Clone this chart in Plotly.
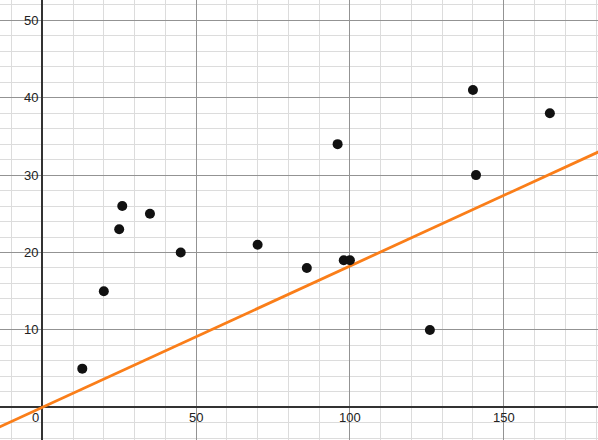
import plotly.graph_objects as go

# Data
x_vals = [13, 20, 25, 26, 35, 45, 70, 86, 96, 98, 100, 126, 140, 141, 165]
y_vals = [5, 15, 23, 26, 25, 20, 21, 18, 34, 19, 19, 10, 41, 30, 38]
line_slope = 0.1825
line_intercept = 0.0
x_tick_labels = [50, 100, 150]
y_tick_labels = [10, 20, 30, 40, 50]

x_range = [-13.75, 180.65]
y_range = [-4.22, 52.62]

line_x = [x_range[0] - 10, x_range[1] + 10]
line_y = [line_slope * v + line_intercept for v in line_x]

fig = go.Figure()
fig.add_trace(go.Scatter(x=line_x, y=line_y, mode="lines",
                         line=dict(color="#fa7e19", width=2.8),
                         hoverinfo="skip", showlegend=False))
fig.add_trace(go.Scatter(x=x_vals, y=y_vals, mode="markers",
                         marker=dict(color="#111111", size=10),
                         showlegend=False))

font = dict(family="Liberation Sans, Arial, sans-serif", size=13, color="#222222")
annotations = []
for v in x_tick_labels:
    annotations.append(dict(x=v, y=0, xref="x", yref="y", text=str(v), showarrow=False,
                            xanchor="center", yanchor="top", yshift=-1, font=font))
for v in y_tick_labels:
    annotations.append(dict(x=0, y=v, xref="x", yref="y", text=str(v), showarrow=False,
                            xanchor="right", yanchor="middle", xshift=-2, font=font))
annotations.append(dict(x=0, y=0, xref="x", yref="y", text="0", showarrow=False,
                        xanchor="right", yanchor="top", xshift=-1, yshift=-1, font=font))

axis_common = dict(showticklabels=False, ticks="", showline=False,
                   gridcolor="#939393", gridwidth=1.2,
                   zeroline=True, zerolinecolor="#333333", zerolinewidth=1.5)

fig.update_layout(
    width=598, height=440,
    margin=dict(l=0, r=0, t=0, b=0),
    paper_bgcolor="white", plot_bgcolor="white",
    xaxis=dict(range=x_range, dtick=50, tick0=0,
               minor=dict(dtick=10, tick0=0, showgrid=True, gridcolor="#dcdcdc", gridwidth=1),
               **axis_common),
    yaxis=dict(range=y_range, dtick=10, tick0=0,
               minor=dict(dtick=2, tick0=0, showgrid=True, gridcolor="#dcdcdc", gridwidth=1),
               **axis_common),
    annotations=annotations,
    hovermode=False,
)

fig.write_html("out.html", config={"displayModeBar": False},
               post_script="document.body.style.margin='0';document.body.style.overflow='hidden';")
